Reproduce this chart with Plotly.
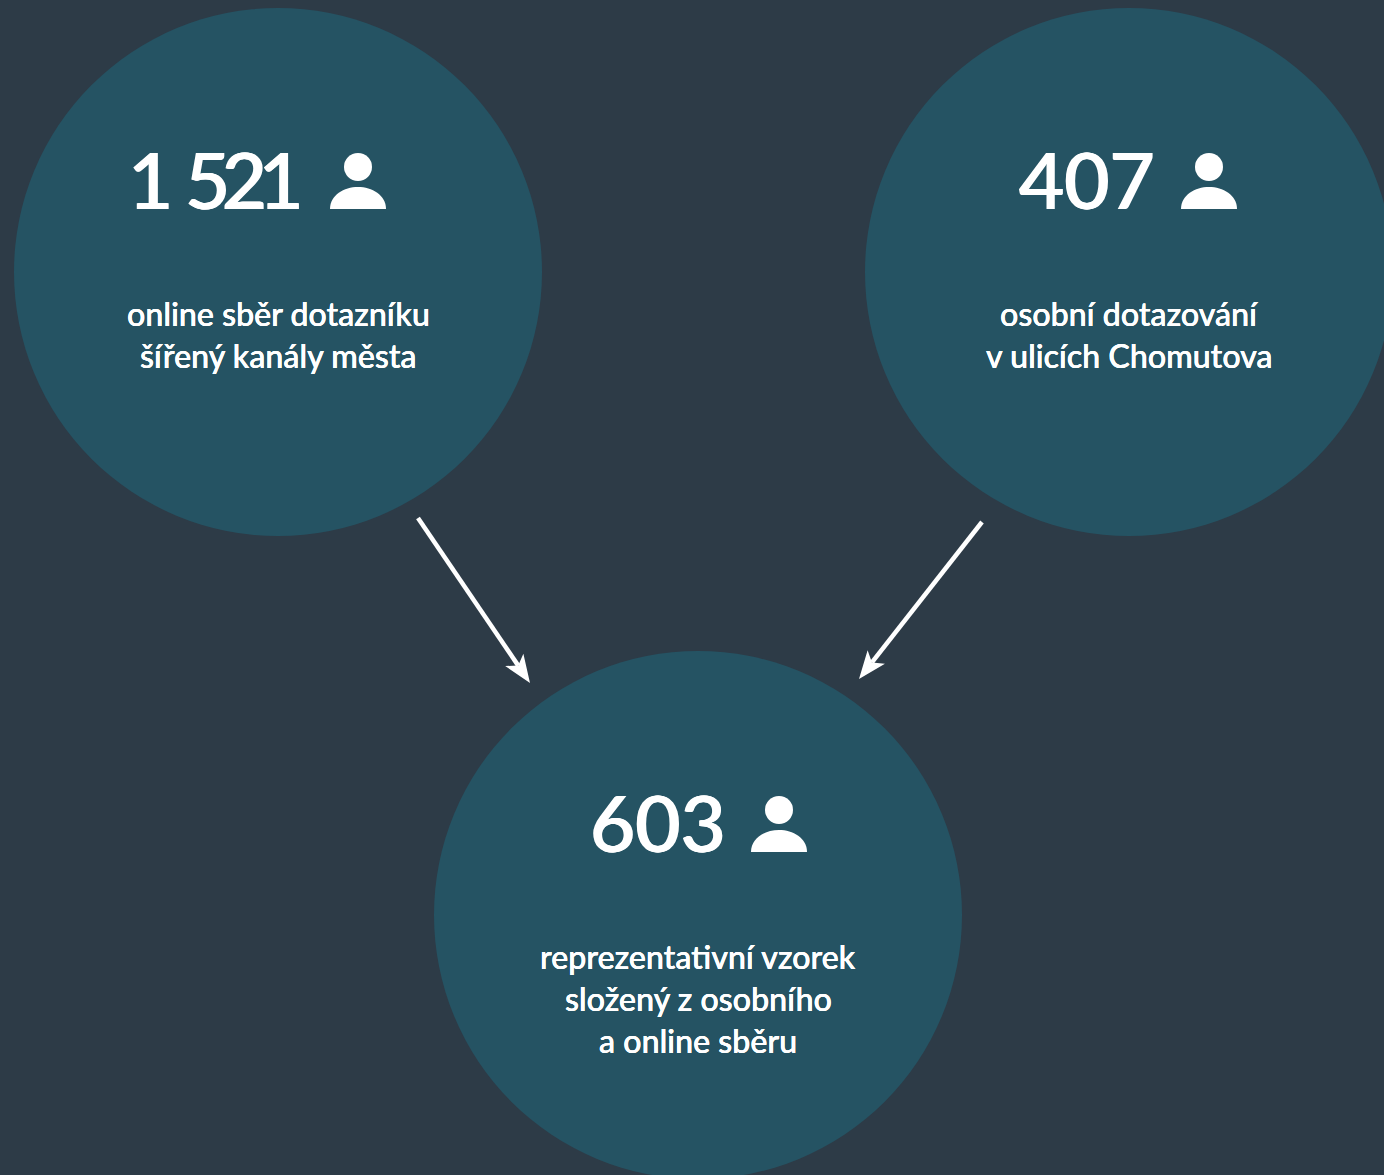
import math
import plotly.graph_objects as go

# Data
counts = ["1 521", "407", "603"]
descriptions = [
    ["online sběr dotazníku", "šířený kanály města"],
    ["osobní dotazování", "v ulicích Chomutova"],
    ["reprezentativní vzorek", "složený z osobního", "a online sběru"],
]

# Layout (pixel space of the 1384x1175 page)
W, H = 1384, 1175
BG, CIRCLE, WHITE = "#2d3b47", "#255363", "#ffffff"
FONT = "Lato"
R = 264
centers = [(278, 272), (1129, 272), (698, 915)]
count_x = [213, 1087, 658]
icon_x = [358, 1209, 779]
arrows = [((418, 518), (530, 683)), ((982, 522), (859, 679))]
HEAD_LEN, HEAD_WIDTH, HEAD_NOTCH = 28, 22, 7


def count_markup(text):
    if " " not in text:
        return text
    head, tail = text.split(" ")
    return (f'<span style="letter-spacing:-4px">{head} </span>'
            f'<span style="letter-spacing:-8.5px">{tail}</span>')


fig = go.Figure()
shapes, anns = [], []

for i, (cx, cy) in enumerate(centers):
    shapes.append(dict(type="circle", x0=cx - R, x1=cx + R, y0=cy - R, y1=cy + R,
                       fillcolor=CIRCLE, line_width=0, layer="below"))
    anns.append(dict(x=count_x[i], y=cy - 93, text=count_markup(counts[i]),
                     showarrow=False, xanchor="center", yanchor="middle",
                     font=dict(family=FONT, size=78, color=WHITE, weight=500,
                               shadow="0.7px 0 0 #fff, -0.7px 0 0 #fff")))
    ix, iy = icon_x[i], cy - 105
    shapes.append(dict(type="circle", x0=ix - 14, x1=ix + 14, y0=iy - 14, y1=iy + 14,
                       fillcolor=WHITE, line_width=0))
    b = iy + 42
    shapes.append(dict(type="path", fillcolor=WHITE, line_width=0,
                       path=f"M {ix-28} {b} C {ix-28} {b-14}, {ix-14} {b-22}, {ix} {b-22} "
                            f"C {ix+14} {b-22}, {ix+28} {b-14}, {ix+28} {b} Z"))
    for j, line in enumerate(descriptions[i]):
        anns.append(dict(x=cx, y=cy + 41 + 42 * j, text=line, showarrow=False,
                         xanchor="center", yanchor="middle",
                         font=dict(family=FONT, size=32.2, color=WHITE, weight=500,
                                   shadow="0.12px 0 0 #fff, -0.12px 0 0 #fff")))

for (x0, y0), (x1, y1) in arrows:
    L = math.hypot(x1 - x0, y1 - y0)
    ux, uy = (x1 - x0) / L, (y1 - y0) / L
    nx, ny = -uy, ux
    bx, by = x1 - ux * HEAD_LEN, y1 - uy * HEAD_LEN
    mx, my = x1 - ux * (HEAD_LEN - HEAD_NOTCH), y1 - uy * (HEAD_LEN - HEAD_NOTCH)
    shapes.append(dict(type="line", x0=x0, y0=y0, x1=mx, y1=my,
                       line=dict(color=WHITE, width=4.5)))
    shapes.append(dict(type="path", fillcolor=WHITE, line_width=0,
                       path=f"M {x1} {y1} L {bx + nx*HEAD_WIDTH/2} {by + ny*HEAD_WIDTH/2} "
                            f"L {mx} {my} L {bx - nx*HEAD_WIDTH/2} {by - ny*HEAD_WIDTH/2} Z"))

fig.add_trace(go.Scatter(x=[0, W], y=[0, H], mode="markers", marker_opacity=0,
                         hoverinfo="skip", showlegend=False))
fig.update_layout(width=W, height=H, margin=dict(l=0, r=0, t=0, b=0),
                  paper_bgcolor=BG, plot_bgcolor=BG, shapes=shapes, annotations=anns,
                  showlegend=False,
                  xaxis=dict(range=[0, W], visible=False, fixedrange=True),
                  yaxis=dict(range=[H, 0], visible=False, fixedrange=True))
fig.write_html("out.html", config=dict(displayModeBar=False),
               default_width=W, default_height=H,
               post_script="document.body.style.margin='0';document.body.style.overflow='hidden';"
                           f"document.body.style.background='{BG}';")
